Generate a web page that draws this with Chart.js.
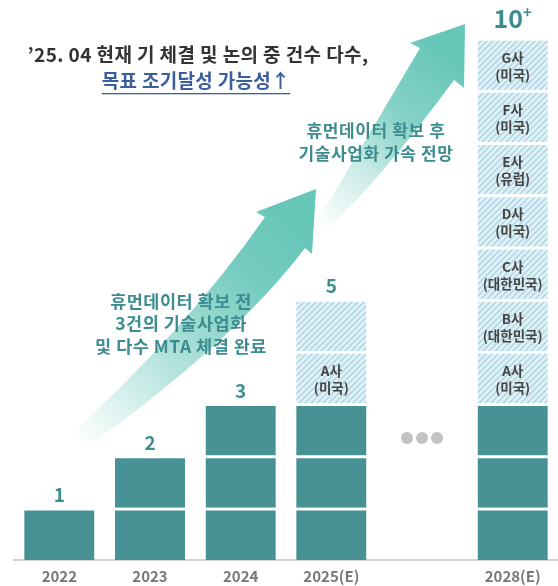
<!DOCTYPE html>
<html>
<head>
<meta charset="utf-8">
<script src="https://cdn.jsdelivr.net/npm/chart.js@4.4.1/dist/chart.umd.min.js"></script>
<style>
html,body{margin:0;padding:0;background:#ffffff;}
canvas{display:block;}
</style>
</head>
<body>
<canvas id="c" width="558" height="586"></canvas>
<script>
// ---- data ----
const categories = ['2022', '2023', '2024', '2025(E)', '', '2028(E)'];
const confirmedCounts = [1, 2, 3, 3, null, 3];
const expectedCounts = [0, 0, 0, 2, null, 7];
const totalLabels = ['1', '2', '3', '5', '', '10'];
const totalSuffixes = ['', '', '', '', '', '+'];
const partners2025 = [['A사', '(미국)'], null];
const partners2028 = [['A사', '(미국)'], ['B사', '(대한민국)'], ['C사', '(대한민국)'], ['D사', '(미국)'], ['E사', '(유럽)'], ['F사', '(미국)'], ['G사', '(미국)']];
const expectedPartners = [[], [], [], partners2025, [], partners2028];
const titleLines = ['’25. 04 현재 기 체결 및 논의 중 건수 다수,', '목표 조기달성 가능성↑'];
const noteBefore = ['휴먼데이터 확보 전', '3건의 기술사업화', '및 다수 MTA 체결 완료'];
const noteAfter = ['휴먼데이터 확보 후', '기술사업화 가속 전망'];

// ---- styles ----
const FONT = '"Noto Sans CJK KR", "Noto Sans", sans-serif';
const SOLID = '#489194';
const TEAL_TEXT = '#3d8c8f';

function makeHatch() {
  const s = 6;
  const c = document.createElement('canvas');
  c.width = s; c.height = s;
  const g = c.getContext('2d');
  g.fillStyle = '#e5f2f7';
  g.fillRect(0, 0, s, s);
  g.strokeStyle = '#b5d9e5';
  g.lineWidth = 1.9;
  g.beginPath();
  g.moveTo(-s, 2 * s); g.lineTo(2 * s, -s);
  g.moveTo(-s, s); g.lineTo(s, -s);
  g.moveTo(0, 2 * s); g.lineTo(2 * s, 0);
  g.stroke();
  return document.getElementById('c').getContext('2d').createPattern(c, 'repeat');
}
const HATCH = makeHatch();

const maxUnits = Math.max(...confirmedCounts.map((c, i) => (c || 0) + (expectedCounts[i] || 0)));
const datasets = [];
for (let k = 0; k < maxUnits; k++) {
  datasets.push({
    label: 'unit' + (k + 1),
    data: categories.map((_, i) => (confirmedCounts[i] != null && k < confirmedCounts[i] + expectedCounts[i]) ? 1 : null),
    backgroundColor: categories.map((_, i) => (confirmedCounts[i] != null && k < confirmedCounts[i]) ? SOLID : HATCH),
    borderColor: '#ffffff',
    borderWidth: {top: 3, bottom: 0, left: 0, right: 0},
    borderSkipped: false,
    barThickness: 70,
    stack: 's'
  });
}

function drawArrow(ctx, pts, grad) {
  ctx.save();
  ctx.fillStyle = grad;
  ctx.beginPath();
  pts(ctx);
  ctx.closePath();
  ctx.fill();
  ctx.restore();
}

function spaced(ctx, px) {
  if ('letterSpacing' in ctx) ctx.letterSpacing = px + 'px';
}

const decor = {
  id: 'decor',
  beforeDraw(chart) {
    const ctx = chart.ctx;
    // upper arrow
    let g = ctx.createLinearGradient(318, 228, 448, 52);
    g.addColorStop(0, 'rgba(102,198,184,0)');
    g.addColorStop(0.3, 'rgba(102,198,184,0.3)');
    g.addColorStop(0.65, 'rgba(102,198,184,0.8)');
    g.addColorStop(1, 'rgba(102,198,184,1)');
    drawArrow(ctx, c => {
      c.moveTo(312, 230);
      c.quadraticCurveTo(360, 150, 420, 48);
      c.lineTo(410, 43); c.lineTo(465, 24); c.lineTo(464, 88); c.lineTo(454, 80);
      c.quadraticCurveTo(379, 182, 324, 232);
    }, g);
    // lower arrow
    g = ctx.createLinearGradient(75, 440, 300, 215);
    g.addColorStop(0, 'rgba(102,198,184,0)');
    g.addColorStop(0.35, 'rgba(102,198,184,0.45)');
    g.addColorStop(0.75, 'rgba(102,198,184,0.9)');
    g.addColorStop(1, 'rgba(102,198,184,1)');
    drawArrow(ctx, c => {
      c.moveTo(62, 442);
      c.quadraticCurveTo(185, 332, 265, 217);
      c.lineTo(256, 212); c.lineTo(316, 189); c.lineTo(312, 254); c.lineTo(305, 248);
      c.quadraticCurveTo(235, 340, 94, 442);
    }, g);
  },
  afterDatasetsDraw(chart) {
    const ctx = chart.ctx;
    const xs = chart.scales.x;
    ctx.save();
    ctx.textAlign = 'center';
    ctx.textBaseline = 'middle';
    // totals
    categories.forEach((cat, i) => {
      if (confirmedCounts[i] == null) return;
      const top = confirmedCounts[i] + expectedCounts[i] - 1;
      const el = chart.getDatasetMeta(top).data[i];
      ctx.fillStyle = TEAL_TEXT;
      if (totalSuffixes[i]) {
        ctx.font = 'bold 25px ' + FONT;
        const w = ctx.measureText(totalLabels[i]).width;
        ctx.font = 'bold 15px ' + FONT;
        const ws = ctx.measureText(totalSuffixes[i]).width;
        const x0 = el.x - (w + ws) / 2;
        ctx.textAlign = 'left';
        ctx.font = 'bold 25px ' + FONT;
        ctx.fillText(totalLabels[i], x0, el.y - 20);
        ctx.font = 'bold 15px ' + FONT;
        ctx.fillText(totalSuffixes[i], x0 + w, el.y - 26);
        ctx.textAlign = 'center';
      } else {
        ctx.font = 'bold 19px ' + FONT;
        ctx.fillText(totalLabels[i], el.x, el.y - 13);
      }
      // partner labels
      (expectedPartners[i] || []).forEach((p, j) => {
        if (!p) return;
        const e = chart.getDatasetMeta(confirmedCounts[i] + j).data[i];
        const cy = (e.y + e.base) / 2 + 1.5;
        ctx.fillStyle = '#454545';
        ctx.font = 'bold 13.5px ' + FONT;
        ctx.fillText(p[0], e.x, cy - 8);
        ctx.fillText(p[1], e.x, cy + 9);
      });
    });
    // ellipsis dots in empty slot
    const gapIdx = categories.indexOf('');
    const dx = xs.getPixelForValue(gapIdx);
    ctx.fillStyle = '#c2c2c2';
    [-15, 0, 15].forEach(o => {
      ctx.beginPath();
      ctx.arc(dx + o, 438, 6, 0, Math.PI * 2);
      ctx.fill();
    });
    // title
    ctx.fillStyle = '#333333';
    ctx.font = 'bold 19px ' + FONT;
    spaced(ctx, 0.4);
    ctx.fillText(titleLines[0], 198, 55);
    ctx.fillStyle = '#3b5f9c';
    ctx.font = 'bold 19px ' + FONT;
    spaced(ctx, 0.3);
    ctx.fillText(titleLines[1], 196, 81);
    const w2 = ctx.measureText(titleLines[1]).width;
    ctx.fillRect(196 - w2 / 2, 93, w2, 1.3);
    // notes
    ctx.fillStyle = TEAL_TEXT;
    ctx.font = 'bold 17px ' + FONT;
    spaced(ctx, 0.6);
    noteAfter.forEach((t, k) => ctx.fillText(t, 376, 131 + k * 23));
    ctx.font = 'bold 17.5px ' + FONT;
    spaced(ctx, 0.5);
    noteBefore.forEach((t, k) => ctx.fillText(t, 181, 301 + k * 22.5));
    ctx.restore();
  }
};

new Chart(document.getElementById('c'), {
  type: 'bar',
  data: {labels: categories, datasets},
  options: {
    responsive: false,
    animation: false,
    devicePixelRatio: 1,
    layout: {padding: {top: 38, left: 14, right: 0, bottom: 0}},
    plugins: {legend: {display: false}, tooltip: {enabled: false}},
    scales: {
      x: {
        stacked: true,
        grid: {display: false, drawTicks: false},
        border: {display: true, color: '#d2d2d2', width: 2},
        ticks: {color: '#777777', font: {family: FONT, size: 15, weight: 'bold'}, padding: 7},
        afterFit(s) { s.height = 26; }
      },
      y: {stacked: true, display: false, min: 0, max: 10}
    }
  },
  plugins: [decor]
});
</script>
</body>
</html>
